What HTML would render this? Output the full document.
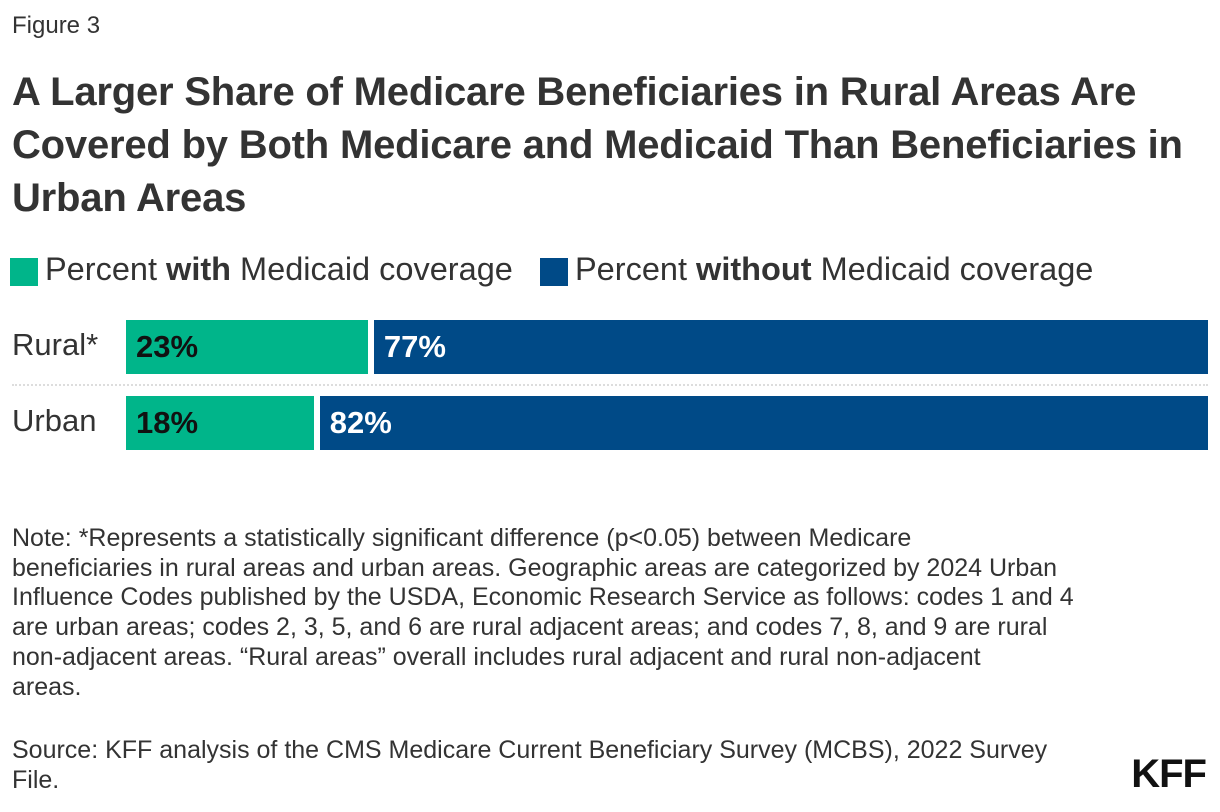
<!DOCTYPE html>
<html><head><meta charset="utf-8"><style>
body{margin:0;width:1220px;height:812px;background:#fff;font-family:"Liberation Sans",sans-serif;color:#222;position:relative;overflow:hidden}
.abs{position:absolute;white-space:nowrap}
#fig{left:12px;top:12px;font-size:24px;color:#333}
#title{left:12px;top:66px;font-size:40px;font-weight:bold;line-height:53px;color:#333;letter-spacing:-0.2px}
.leg{top:251px;font-size:32.5px;color:#333}
.sw{position:absolute;width:28px;height:28px}
#note,#src{left:12px;font-size:25px;line-height:29.7px;color:#333}
#note{top:524px}
#src{top:736px}
#kff{right:14px;top:752px;font-size:40px;font-weight:bold;color:#111;letter-spacing:-1px}
.cat{left:12px;font-size:31px;color:#333}
.val{font-size:31px;font-weight:bold}
</style></head><body>
<div class="abs" id="fig">Figure 3</div>
<div class="abs" id="title">A Larger Share of Medicare Beneficiaries in Rural Areas Are<br>Covered by Both Medicare and Medicaid Than Beneficiaries in<br>Urban Areas</div>
<div class="sw" style="left:10px;top:258px;background:#00b58a"></div>
<div class="abs leg" style="left:45px">Percent <b>with</b> Medicaid coverage</div>
<div class="sw" style="left:540px;top:258px;background:#004a87"></div>
<div class="abs leg" style="left:575px">Percent <b>without</b> Medicaid coverage</div>
<div id="chart"></div>
<div class="abs" id="note">Note: *Represents a statistically significant difference (p&lt;0.05) between Medicare<br>beneficiaries in rural areas and urban areas. Geographic areas are categorized by 2024 Urban<br>Influence Codes published by the USDA, Economic Research Service as follows: codes 1 and 4<br>are urban areas; codes 2, 3, 5, and 6 are rural adjacent areas; and codes 7, 8, and 9 are rural<br>non-adjacent areas. “Rural areas” overall includes rural adjacent and rural non-adjacent<br>areas.</div>
<div class="abs" id="src">Source: KFF analysis of the CMS Medicare Current Beneficiary Survey (MCBS), 2022 Survey<br>File.</div>
<div class="abs" id="kff">KFF</div>
<script>
const categories=["Rural*","Urban"];
const withVals=[23,18];
const withoutVals=[77,82];
const X0=126,W=1082,Y0=320,STEP=76,BH=54;
const xs=v=>X0+v/100*W;
const c=document.getElementById('chart');
function div(css,txt){const d=document.createElement('div');d.className='abs';d.style.cssText=css;if(txt)d.textContent=txt;c.appendChild(d);return d;}
categories.forEach((cat,i)=>{
  const y=Y0+i*STEP;
  const l=div(`top:${y+7}px`,cat);l.classList.add('cat');
  
  
  const b1=div(`left:${X0}px;top:${y}px;width:${xs(withVals[i])-X0-7}px;height:${BH}px;background:#00b58a`);
  
  
  const t1=div(`left:${X0+10}px;top:${y+9}px;color:#111`,withVals[i]+'%');t1.classList.add('val');
  
  
  const bx=xs(withVals[i])-1;
  const b2=div(`left:${bx}px;top:${y}px;width:${xs(withVals[i]+withoutVals[i])-bx}px;height:${BH}px;background:#004a87`);
  
  
  const t2=div(`left:${bx+10}px;top:${y+9}px;color:#fff`,withoutVals[i]+'%');t2.classList.add('val');
  
  
  if(i<categories.length-1){
    const s=div(`left:12px;top:${y+BH+10}px;width:1196px;border-top:2px dotted #ddd`);
    
    
  }
});
</script>
</body></html>
